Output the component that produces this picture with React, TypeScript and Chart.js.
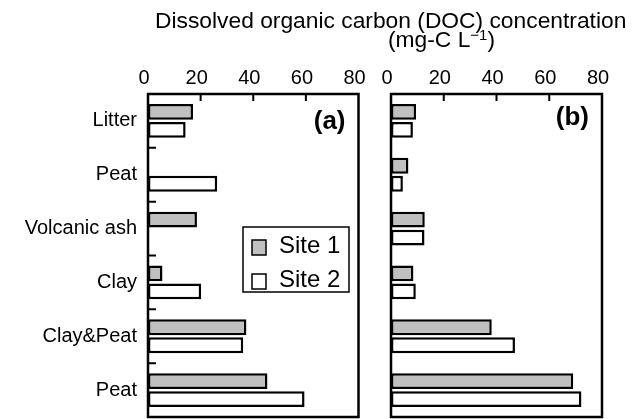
import React, { useEffect, useRef } from "react";
import { Chart, registerables } from "chart.js";

Chart.register(...registerables);

const categories = ["Litter", "Peat", "Volcanic ash", "Clay", "Clay&Peat", "Peat"];
const seriesNames = ["Site 1", "Site 2"];
const seriesFill = ["#c0c0c0", "#ffffff"];
// panel (a)
const panelASite1 = [17.1, null, 18.6, 5.5, 37.4, 45.4];
const panelASite2 = [14.3, 26.3, null, 20.2, 36.2, 59.5];
// panel (b)
const panelBSite1 = [9.5, 6.6, 12.8, 8.5, 38.2, 69.1];
const panelBSite2 = [8.3, 4.5, 12.7, 9.4, 47.0, 72.2];
const xTicks = [0, 20, 40, 60, 80];
const panelLabels = ["(a)", "(b)"];

const FONT = '"Liberation Sans", Arial, Helvetica, sans-serif';

function decorPlugin(panelLabel: string, labelDy: number, withYTicks: boolean, withLegend: boolean) {
  return {
    id: "decor",
    afterDatasetsDraw(chart: any) {
      const { ctx, chartArea, scales } = chart;
      const { left, right, top, bottom } = chartArea;
      ctx.save();
      ctx.strokeStyle = "#000";
      ctx.lineWidth = 2.5;
      ctx.strokeRect(left, top, right - left, bottom - top);
      ctx.lineWidth = 2;
      ctx.beginPath();
      for (let i = 1; i < xTicks.length - 1; i++) {
        const x = scales.x.getPixelForValue(xTicks[i]);
        ctx.moveTo(x, top);
        ctx.lineTo(x, top + 7);
      }
      if (withYTicks) {
        for (let i = 0; i < categories.length - 1; i++) {
          const y = (scales.y.getPixelForValue(i) + scales.y.getPixelForValue(i + 1)) / 2;
          ctx.moveTo(left, y);
          ctx.lineTo(left + 8, y);
        }
      }
      ctx.stroke();
      ctx.fillStyle = "#000";
      ctx.font = `bold 26px ${FONT}`;
      ctx.textAlign = "right";
      ctx.textBaseline = "middle";
      ctx.fillText(panelLabel, right - 13, top + labelDy);
      if (withLegend) {
        const bx = left + 95;
        const by = top + 133;
        const bw = 106;
        const bh = 65;
        ctx.lineWidth = 1.5;
        ctx.strokeRect(bx, by, bw, bh);
        ctx.font = `24px ${FONT}`;
        ctx.textAlign = "left";
        ctx.textBaseline = "middle";
        chart.data.datasets.forEach((ds: any, i: number) => {
          const cy = by + 20 + i * 34;
          ctx.fillStyle = ds.backgroundColor;
          ctx.fillRect(bx + 9, cy - 7, 14, 15);
          ctx.strokeRect(bx + 9, cy - 7, 14, 15);
          ctx.fillStyle = "#000";
          ctx.fillText(ds.label, bx + 36, cy - 1);
        });
      }
      ctx.restore();
    },
  };
}

function makeConfig(
  d1: (number | null)[],
  d2: (number | null)[],
  showY: boolean,
  padding: { left: number; right: number; top: number; bottom: number },
  plugin: any
): any {
  return {
    type: "bar",
    data: {
      labels: categories,
      datasets: [d1, d2].map((d, i) => ({
        label: seriesNames[i],
        data: d,
        backgroundColor: seriesFill[i],
        borderColor: "#000",
        borderWidth: 2.5,
        borderSkipped: false,
        categoryPercentage: 0.667,
        barPercentage: 0.88,
      })),
    },
    options: {
      indexAxis: "y",
      responsive: false,
      animation: false,
      layout: { padding },
      plugins: {
        legend: { display: false },
        tooltip: { enabled: false },
        title: { display: false },
      },
      scales: {
        x: {
          position: "top",
          min: xTicks[0],
          max: xTicks[xTicks.length - 1],
          grid: { display: false, drawTicks: false },
          border: { display: false },
          ticks: {
            stepSize: 20,
            autoSkip: false,
            maxRotation: 0,
            minRotation: 0,
            padding: 4,
            labelOffset: -4,
            color: "#000",
            font: { family: FONT, size: 20 },
          },
          afterFit: (s: any) => {
            s.height = 94;
            s.paddingLeft = 0;
            s.paddingRight = 0;
          },
        },
        y: {
          display: showY,
          grid: { display: false, drawTicks: false },
          border: { display: false },
          ticks: {
            padding: 11,
            color: "#000",
            font: { family: FONT, size: 20 },
          },
          afterFit: (s: any) => {
            s.width = showY ? 148 : 0;
            s.paddingTop = 0;
            s.paddingBottom = 0;
          },
        },
      },
    },
    plugins: [plugin],
  };
}

export default function App() {
  const refA = useRef<HTMLCanvasElement | null>(null);
  const refB = useRef<HTMLCanvasElement | null>(null);

  useEffect(() => {
    const a = new Chart(
      refA.current as HTMLCanvasElement,
      makeConfig(
        panelASite1,
        panelASite2,
        true,
        { left: 0, right: 16.5, top: 0, bottom: 2 },
        decorPlugin(panelLabels[0], 28, true, true)
      )
    );
    const b = new Chart(
      refB.current as HTMLCanvasElement,
      makeConfig(
        panelBSite1,
        panelBSite2,
        false,
        { left: 16, right: 31, top: 0, bottom: 2 },
        decorPlugin(panelLabels[1], 24, false, false)
      )
    );
    return () => {
      a.destroy();
      b.destroy();
    };
  }, []);

  return (
    <div
      style={{
        position: "absolute",
        left: 0,
        top: 0,
        width: 633,
        height: 419,
        overflow: "hidden",
        background: "#fff",
        fontFamily: FONT,
        color: "#000",
      }}
    >
      <canvas ref={refA} width={375} height={419} style={{ position: "absolute", left: 0, top: 0 }} />
      <canvas ref={refB} width={258} height={419} style={{ position: "absolute", left: 375, top: 0 }} />
      <div
        style={{
          position: "absolute",
          left: 155,
          top: 9,
          fontSize: 22.8,
          lineHeight: 1,
          whiteSpace: "nowrap",
        }}
      >
        Dissolved organic carbon (DOC) concentration
      </div>
      <div
        style={{
          position: "absolute",
          left: 388,
          top: 28,
          fontSize: 22.8,
          lineHeight: 1,
          whiteSpace: "nowrap",
        }}
      >
        (mg-C L
        <span style={{ fontSize: 15, position: "relative", top: -7 }}>−1</span>)
      </div>
    </div>
  );
}
